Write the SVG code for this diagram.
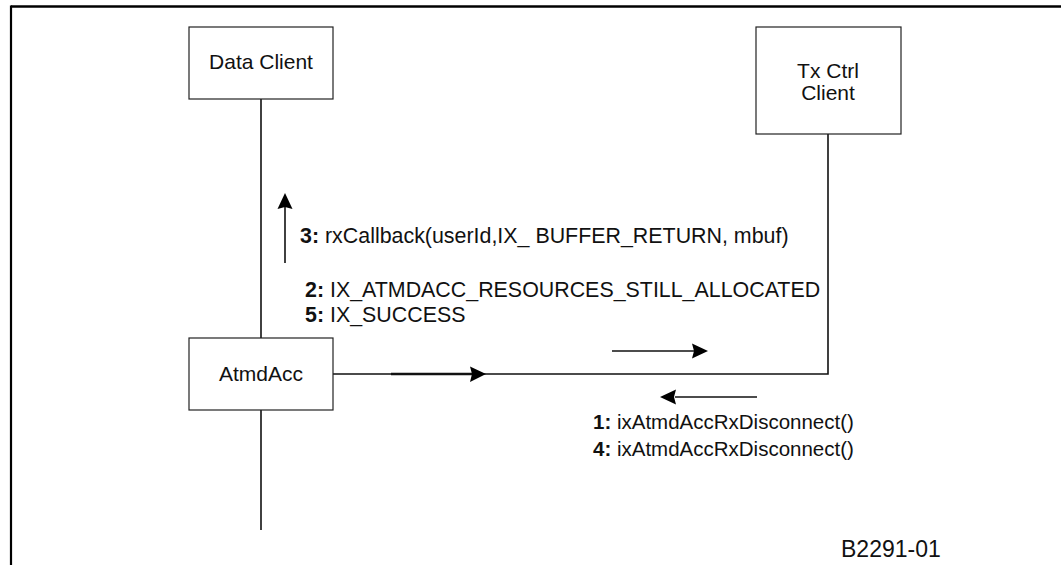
<svg xmlns="http://www.w3.org/2000/svg" width="1061" height="565" viewBox="0 0 1061 565">
<style>
  .box { fill: #fff; stroke: #222; stroke-width: 1.2; }
  .line { stroke: #111; stroke-width: 1.6; fill: none; }
  .thick { stroke: #111; stroke-width: 2.4; fill: none; }
  .head { fill: #000; stroke: none; }
  .t { font-family: "Liberation Sans", Arial, sans-serif; font-size: 21px; fill: #111; }
  .u { font-size: 21.4px; }
  .l { font-size: 20.5px; }
  .b { font-weight: bold; }
  .c { text-anchor: middle; }
</style>
<rect width="1061" height="565" fill="#fff"/>
<g id="frame">
  <line x1="11" y1="6.5" x2="1061" y2="6.5" stroke="#000" stroke-width="2.5"/>
  <line x1="11" y1="5.5" x2="11" y2="565" stroke="#000" stroke-width="2.2"/>
</g>
<g id="connectors">
  <line class="line" x1="261" y1="99" x2="261" y2="338"/>
  <line class="line" x1="261" y1="410" x2="261" y2="530"/>
  <polyline class="line" points="333,374 828,374 828,134"/>
  <line class="thick" x1="391" y1="374" x2="472" y2="374"/>
  <polygon class="head" points="486,374 470,366.5 472,374 470,382"/>
  <line class="line" x1="285" y1="263" x2="285" y2="205"/>
  <polygon class="head" points="285,193 277.5,209 285,207 292.5,209"/>
  <line class="line" x1="612" y1="351" x2="694" y2="351"/>
  <polygon class="head" points="708,351 692,343.5 694,351 692,358.5"/>
  <line class="line" x1="757" y1="397" x2="675" y2="397"/>
  <polygon class="head" points="660,397 676,389.5 674,397 676,404.5"/>
</g>
<g id="data-client">
  <rect class="box" x="189" y="27" width="144" height="72"/>
  <text class="t c" x="261" y="69">Data Client</text>
</g>
<g id="tx-ctrl-client">
  <rect class="box" x="756" y="27" width="145" height="107"/>
  <text class="t c" x="828" y="78">Tx Ctrl</text>
  <text class="t c" x="828" y="100">Client</text>
</g>
<g id="atmdacc">
  <rect class="box" x="189" y="338" width="144" height="72"/>
  <text class="t c" x="261" y="381">AtmdAcc</text>
</g>
<g id="labels">
  <text class="t u" x="300" y="243"><tspan class="b">3:</tspan> rxCallback(userId,IX_ BUFFER_RETURN, mbuf)</text>
  <text class="t u" x="305" y="297"><tspan class="b">2:</tspan> IX_ATMDACC_RESOURCES_STILL_ALLOCATED</text>
  <text class="t u" x="305" y="322"><tspan class="b">5:</tspan> IX_SUCCESS</text>
  <text class="t l" x="593" y="429"><tspan class="b">1:</tspan> ixAtmdAccRxDisconnect()</text>
  <text class="t l" x="593" y="456"><tspan class="b">4:</tspan> ixAtmdAccRxDisconnect()</text>
  <text class="t" x="841" y="557" style="font-size:23px">B2291-01</text>
</g>
</svg>
